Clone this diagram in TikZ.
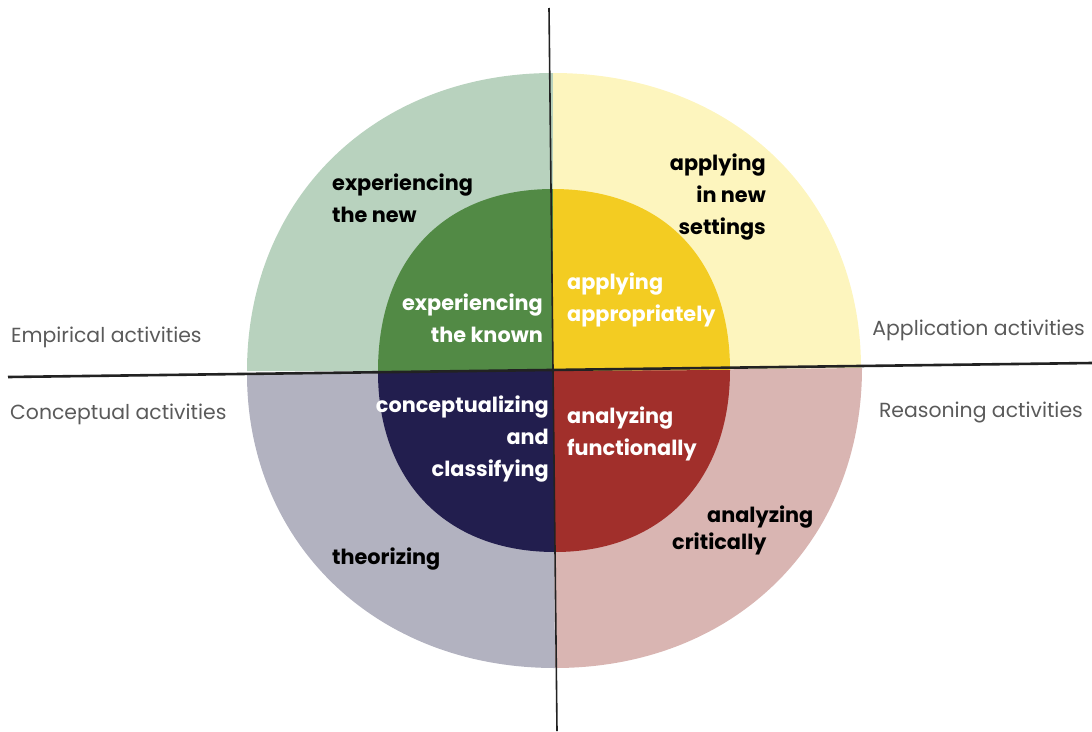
\documentclass[tikz,border=0pt]{standalone}
\usepackage{fontspec}
\setmainfont{Poppins}
\definecolor{ogreen}{HTML}{B8D2BE}
\definecolor{oyellow}{HTML}{FDF5BE}
\definecolor{ogrey}{HTML}{B2B2C0}
\definecolor{opink}{HTML}{D9B5B2}
\definecolor{igreen}{HTML}{528A45}
\definecolor{iyellow}{HTML}{F3CC22}
\definecolor{inavy}{HTML}{221E4E}
\definecolor{ired}{HTML}{A12F2B}
\definecolor{labgrey}{HTML}{5A5A5A}
\definecolor{axisc}{HTML}{222222}
\begin{document}
\begin{tikzpicture}[x=1pt,y=-1pt,
  lbl/.style={inner sep=0pt,font=\fontsize{20.8}{32}\selectfont\bfseries},
  wlbl/.style={lbl,text=white},
  side/.style={inner sep=0pt,text=labgrey,font=\fontsize{20.4}{24}\selectfont}]
\path[use as bounding box] (0,0) rectangle (1092,731);
\coordinate (C) at (553,371);
% outer quadrants
\fill[ogreen] (C) -- (247,371) .. controls (247,198) and (375,73) .. (553,73) -- cycle;
\fill[oyellow] (C) -- (553,73) .. controls (734,73) and (861,198) .. (861,368) -- cycle;
\fill[opink] (C) -- (862,368) .. controls (862,542) and (734,668) .. (555,668) -- cycle;
\fill[ogrey] (C) -- (555,668) .. controls (375,668) and (247,542) .. (247,374) -- cycle;
% inner quadrants
\fill[igreen] (C) -- (378,371) .. controls (378,258) and (445,189) .. (553,189) -- cycle;
\fill[iyellow] (C) -- (553,189) .. controls (662,189) and (730,258) .. (730,370) -- cycle;
\fill[ired] (C) -- (730,370) .. controls (730,480) and (662,552) .. (555,552) -- cycle;
\fill[inavy] (C) -- (555,552) .. controls (445,552) and (378,480) .. (378,372) -- cycle;
% axes
\coordinate (hl) at (8,377);
\coordinate (hr) at (1092,363);
\coordinate (vt) at (549,8);
\coordinate (vb) at (557,731);
\draw[axisc,line width=2.6pt] (hl) -- (hr);
\draw[axisc,line width=1.6pt] (vt) -- (vb);
% labels
\node[lbl,anchor=west,align=left] (en) at (332,198.5) {experiencing\\the new};
\node[lbl,anchor=east,align=right] (ans) at (766,197) {applying\\in new\\settings};
\node[wlbl,anchor=east,align=right] (ek) at (543,318) {experiencing\\the known};
\node[wlbl,anchor=west,align=left] (aa) at (567,300) {applying\\appropriately};
\node[wlbl,anchor=east,align=right] (cc) at (549,439) {conceptualizing\\and\\classifying};
\node[wlbl,anchor=west,align=left] (af) at (567,434) {analyzing\\functionally};
\node[lbl,anchor=west] (ac1) at (707,517) {analyzing};
\node[lbl,anchor=west] (ac2) at (672,544) {critically};
\node[lbl,anchor=west] (th) at (332,559) {theorizing};
\node[side,anchor=west] (emp) at (11,337) {Empirical activities};
\node[side,anchor=west] (con) at (10,414) {Conceptual activities};
\node[side,anchor=east] (app) at (1085,330) {Application activities};
\node[side,anchor=east] (rea) at (1083,412) {Reasoning activities};
\end{tikzpicture}
\end{document}
